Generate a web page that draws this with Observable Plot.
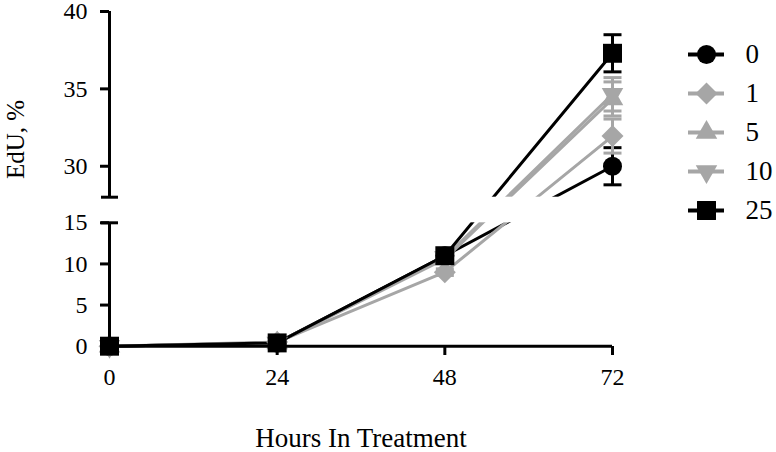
<!DOCTYPE html>
<html>
<head>
<meta charset="utf-8">
<script src="https://cdn.jsdelivr.net/npm/d3@7"></script>
<script src="https://cdn.jsdelivr.net/npm/@observablehq/plot@0.6"></script>
<style>
  html, body { margin: 0; padding: 0; background: #fff; }
  #wrap { position: relative; width: 776px; height: 452px; }
  #legend { position: absolute; left: 660px; top: 0px; }
  #chart { position: absolute; left: 0; top: 0; }
  svg, svg text { font-family: 'Liberation Serif', 'Times New Roman', serif !important; }
</style>
</head>
<body>
<div id="wrap"><div id="chart"></div><div id="legend"></div></div>
<script>
// ---- data ----
const hours = [0, 24, 48, 72];
const doses = ["0", "1", "5", "10", "25"];
const edu0  = [0, 0.4, 11.0, 30.0];
const edu1  = [0, 0.5,  9.0, 31.95];
const edu5  = [0, 0.4, 10.6, 34.35];
const edu10 = [0, 0.4, 10.8, 34.65];
const edu25 = [0, 0.4, 11.0, 37.3];
const sem0  = [0, 0.1, 0.4, 1.2];
const sem1  = [0, 0.1, 0.4, 1.1];
const sem5  = [0, 0.1, 0.4, 1.1];
const sem10 = [0, 0.1, 0.4, 1.08];
const sem25 = [0, 0.1, 0.4, 1.2];
const xTicks = [0, 24, 48, 72];
const yLowTicks = [0, 5, 10, 15];
const yHighTicks = [30, 35, 40];
const yBreak = [15, 28];          // axis break: lower segment ends at 15, upper starts at 28
const xTitle = "Hours In Treatment";
const yTitle = "EdU, %";

const seriesValues = [edu0, edu1, edu5, edu10, edu25];
const seriesSem = [sem0, sem1, sem5, sem10, sem25];
const colors = ["#000000", "#a6a6a6", "#a6a6a6", "#a6a6a6", "#000000"];
const symbols = ["circle", "diamond2", "triangle", "triangle", "square"];
const rotates = [0, 0, 0, 180, 0];
const radii = [9.5, 9.9, 8, 8, 10.7];

const rows = [];
doses.forEach((dose, i) => hours.forEach((h, j) => rows.push({
  dose, i, hour: h, v: seriesValues[i][j], lo: seriesValues[i][j] - seriesSem[i][j], hi: seriesValues[i][j] + seriesSem[i][j]
})));

const capSymbol = {draw(ctx, size) { const r = Math.sqrt(size / Math.PI); ctx.moveTo(-r, 0); ctx.lineTo(r, 0); }};
const font = "'Liberation Serif', 'Times New Roman', serif";

const marks = [];
doses.forEach((dose, i) => {
  const d = rows.filter(r => r.dose === dose);
  marks.push(Plot.line(d, {x: "hour", y: "v", stroke: colors[i], strokeWidth: 3, curve: "linear"}));
});
// hide the segment crossing the axis break
marks.push(Plot.rect([yBreak], {x1: d3.min(xTicks), x2: d3.max(xTicks), y1: d => d[0], y2: d => d[1], fill: "white"}));
doses.forEach((dose, i) => {
  const d = rows.filter(r => r.dose === dose && r.hi - r.lo > 0.5);
  marks.push(Plot.ruleX(d, {x: "hour", y1: "lo", y2: "hi", stroke: colors[i], strokeWidth: 3}));
  marks.push(Plot.dot(d, {x: "hour", y: "hi", symbol: capSymbol, r: 9, stroke: colors[i], strokeWidth: 3, fill: "none"}));
  marks.push(Plot.dot(d, {x: "hour", y: "lo", symbol: capSymbol, r: 9, stroke: colors[i], strokeWidth: 3, fill: "none"}));
});
doses.forEach((dose, i) => {
  const d = rows.filter(r => r.dose === dose);
  marks.push(Plot.dot(d, {x: "hour", y: "v", symbol: symbols[i], r: radii[i], rotate: rotates[i], fill: colors[i], stroke: "none"}));
});
// axes
marks.push(Plot.ruleY([0], {x1: d3.min(xTicks), x2: d3.max(xTicks), stroke: "black", strokeWidth: 3}));
marks.push(Plot.ruleX([0], {y1: d3.min(yLowTicks), y2: yBreak[0], stroke: "black", strokeWidth: 3}));
marks.push(Plot.ruleX([0], {y1: yBreak[1], y2: d3.max(yHighTicks), stroke: "black", strokeWidth: 3}));
marks.push(Plot.dot(yBreak, {x: 0, y: d => d, symbol: capSymbol, r: 8.5, stroke: "black", strokeWidth: 3, fill: "none"}));
marks.push(Plot.axisX(xTicks, {tickSize: 9, tickPadding: 12, strokeWidth: 3, fontSize: 24, fontFamily: font, fill: "black", label: null, tickFormat: d => String(d)}));
marks.push(Plot.axisY(yLowTicks.concat(yHighTicks), {tickSize: 9, tickPadding: 13, strokeWidth: 3, fontSize: 24, fontFamily: font, fill: "black", label: null, tickFormat: d => String(d)}));
marks.push(Plot.text([xTitle], {frameAnchor: "bottom", dy: 92, fontSize: 27, fontFamily: font, fill: "black", lineAnchor: "middle"}));
marks.push(Plot.text([yTitle], {frameAnchor: "left", dx: -94, rotate: -90, fontSize: 25, fontFamily: font, fill: "black", lineAnchor: "middle"}));

const chart = Plot.plot({
  width: 776, height: 452,
  marginLeft: 109, marginRight: 164, marginTop: 11, marginBottom: 106,
  style: {background: "white", overflow: "visible", fontFamily: font},
  x: {domain: [0, 72]},
  y: {type: "linear", domain: [0, 15, 28, 40], range: [345.7, 222.3, 196.7, 11]},
  marks
});
document.getElementById("chart").appendChild(chart);

// ---- legend ----
const legendRows = doses.map((dose, i) => ({dose, i}));
const lmarks = [];
legendRows.forEach(r => {
  lmarks.push(Plot.ruleY([r], {y: "dose", x1: 0, x2: 1, stroke: colors[r.i], strokeWidth: 4}));
  lmarks.push(Plot.dot([r], {y: "dose", x: 0.5, symbol: symbols[r.i], r: radii[r.i], rotate: rotates[r.i], fill: colors[r.i], stroke: "none"}));
});
lmarks.push(Plot.text(legendRows, {y: "dose", x: 1, text: "dose", dx: 21, textAnchor: "start", fontSize: 27, fontFamily: font, fill: "black", lineAnchor: "middle"}));
const legend = Plot.plot({
  width: 116, height: 260, margin: 0,
  style: {background: "transparent", overflow: "visible", fontFamily: font},
  x: {domain: [0, 1], range: [28, 64], axis: null},
  y: {type: "point", domain: doses, range: [32.5, 230.5], axis: null},
  marks: lmarks
});
document.getElementById("legend").appendChild(legend);
</script>
</body>
</html>
